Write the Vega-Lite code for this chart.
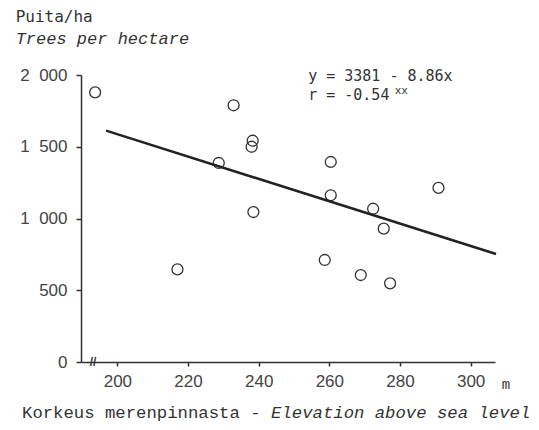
{
  "$schema": "https://vega.github.io/schema/vega-lite/v6.json",
  "width": 414,
  "height": 287,
  "autosize": "none",
  "padding": {"left": 81, "top": 75, "right": 44, "bottom": 68},
  "background": "white",
  "config": {"view": {"stroke": null}},
  "datasets": {
    "stands": [
      {"elevation": 193.7, "trees": 1879},
      {"elevation": 232.9, "trees": 1789},
      {"elevation": 238.3, "trees": 1542},
      {"elevation": 238.0, "trees": 1500},
      {"elevation": 228.7, "trees": 1387},
      {"elevation": 238.5, "trees": 1045},
      {"elevation": 260.4, "trees": 1394},
      {"elevation": 260.4, "trees": 1162},
      {"elevation": 290.9, "trees": 1213},
      {"elevation": 272.4, "trees": 1068},
      {"elevation": 275.4, "trees": 929},
      {"elevation": 258.7, "trees": 711},
      {"elevation": 268.9, "trees": 606},
      {"elevation": 277.2, "trees": 548},
      {"elevation": 217.0, "trees": 645}
    ],
    "fit": [
      {"elevation": 196.8, "trees": 1612},
      {"elevation": 307.2, "trees": 753}
    ],
    "one": [{}]
  },
  "layer": [
    {
      "data": {"name": "stands"},
      "mark": {"type": "point", "shape": "circle", "filled": false, "size": 120, "stroke": "#333", "strokeWidth": 1.3, "opacity": 1},
      "encoding": {
        "x": {
          "field": "elevation", "type": "quantitative",
          "scale": {"domain": [189.7, 306.9], "nice": false, "zero": false},
          "axis": {
            "title": null, "values": [200, 220, 240, 260, 280, 300], "grid": false,
            "domainColor": "#333", "domainWidth": 1.5, "tickColor": "#333", "tickWidth": 1.5,
            "tickSize": 4, "labelPadding": 7, "labelFont": "Liberation Sans", "labelFontSize": 17,
            "labelColor": "#444", "labelFlush": false
          }
        },
        "y": {
          "field": "trees", "type": "quantitative",
          "scale": {"domain": [0, 2000], "nice": false},
          "axis": {
            "title": null, "values": [0, 500, 1000, 1500, 2000], "grid": false,
            "domainColor": "#333", "domainWidth": 1.5, "tickColor": "#333", "tickWidth": 1.5,
            "tickSize": 5, "labelPadding": 9, "labelFont": "Liberation Sans", "labelFontSize": 17,
            "labelColor": "#444", "labelFlush": false,
            "labelExpr": "replace(format(datum.value, ','), ',', '\u2007')"
          }
        }
      }
    },
    {
      "data": {"name": "fit"},
      "mark": {"type": "line", "color": "#222", "strokeWidth": 2.5},
      "encoding": {
        "x": {"field": "elevation", "type": "quantitative"},
        "y": {"field": "trees", "type": "quantitative"}
      }
    },
    {
      "data": {"name": "one"},
      "mark": {"type": "text", "text": "y = 3381 - 8.86x", "font": "DejaVu Sans Mono", "fontSize": 15, "color": "#333", "align": "left", "baseline": "alphabetic"},
      "encoding": {"x": {"datum": 254.0, "type": "quantitative"}, "y": {"datum": 1958, "type": "quantitative"}}
    },
    {
      "data": {"name": "one"},
      "mark": {"type": "text", "text": "r = -0.54", "font": "DejaVu Sans Mono", "fontSize": 15, "color": "#333", "align": "left", "baseline": "alphabetic"},
      "encoding": {"x": {"datum": 254.0, "type": "quantitative"}, "y": {"datum": 1826, "type": "quantitative"}}
    },
    {
      "data": {"name": "one"},
      "mark": {"type": "text", "text": "xx", "font": "DejaVu Sans Mono", "fontSize": 11, "color": "#333", "align": "left", "baseline": "alphabetic"},
      "encoding": {"x": {"datum": 278.5, "type": "quantitative"}, "y": {"datum": 1868, "type": "quantitative"}}
    },
    {
      "data": {"name": "one"},
      "mark": {"type": "text", "text": "Puita/ha", "font": "DejaVu Sans Mono", "fontSize": 16, "color": "#333", "align": "left", "baseline": "alphabetic"},
      "encoding": {"x": {"datum": 171.2, "type": "quantitative"}, "y": {"datum": 2367, "type": "quantitative"}}
    },
    {
      "data": {"name": "one"},
      "mark": {"type": "text", "text": "Trees per hectare", "font": "Liberation Mono", "fontStyle": "italic", "fontSize": 17, "color": "#333", "align": "left", "baseline": "alphabetic"},
      "encoding": {"x": {"datum": 171.2, "type": "quantitative"}, "y": {"datum": 2216, "type": "quantitative"}}
    },
    {
      "data": {"name": "one"},
      "mark": {"type": "text", "text": "Korkeus merenpinnasta -", "font": "Liberation Mono", "fontSize": 17.3, "color": "#333", "align": "left", "baseline": "alphabetic"},
      "encoding": {"x": {"datum": 173.0, "type": "quantitative"}, "y": {"datum": -390, "type": "quantitative"}}
    },
    {
      "data": {"name": "one"},
      "mark": {"type": "text", "text": "Elevation above sea level", "font": "Liberation Mono", "fontStyle": "italic", "fontSize": 17.3, "color": "#333", "align": "left", "baseline": "alphabetic"},
      "encoding": {"x": {"datum": 243.5, "type": "quantitative"}, "y": {"datum": -390, "type": "quantitative"}}
    },
    {
      "data": {"name": "one"},
      "mark": {"type": "text", "text": "m", "font": "Liberation Mono", "fontSize": 14, "color": "#333", "align": "center", "baseline": "middle"},
      "encoding": {"x": {"datum": 310.0, "type": "quantitative"}, "y": {"datum": -160, "type": "quantitative"}}
    },
    {
      "data": {"name": "one"},
      "mark": {"type": "text", "text": "//", "font": "Liberation Sans", "fontSize": 12, "fontWeight": "bold", "color": "#333", "align": "center", "baseline": "middle"},
      "encoding": {"x": {"datum": 193.1, "type": "quantitative"}, "y": {"datum": 0, "type": "quantitative"}}
    }
  ]
}
